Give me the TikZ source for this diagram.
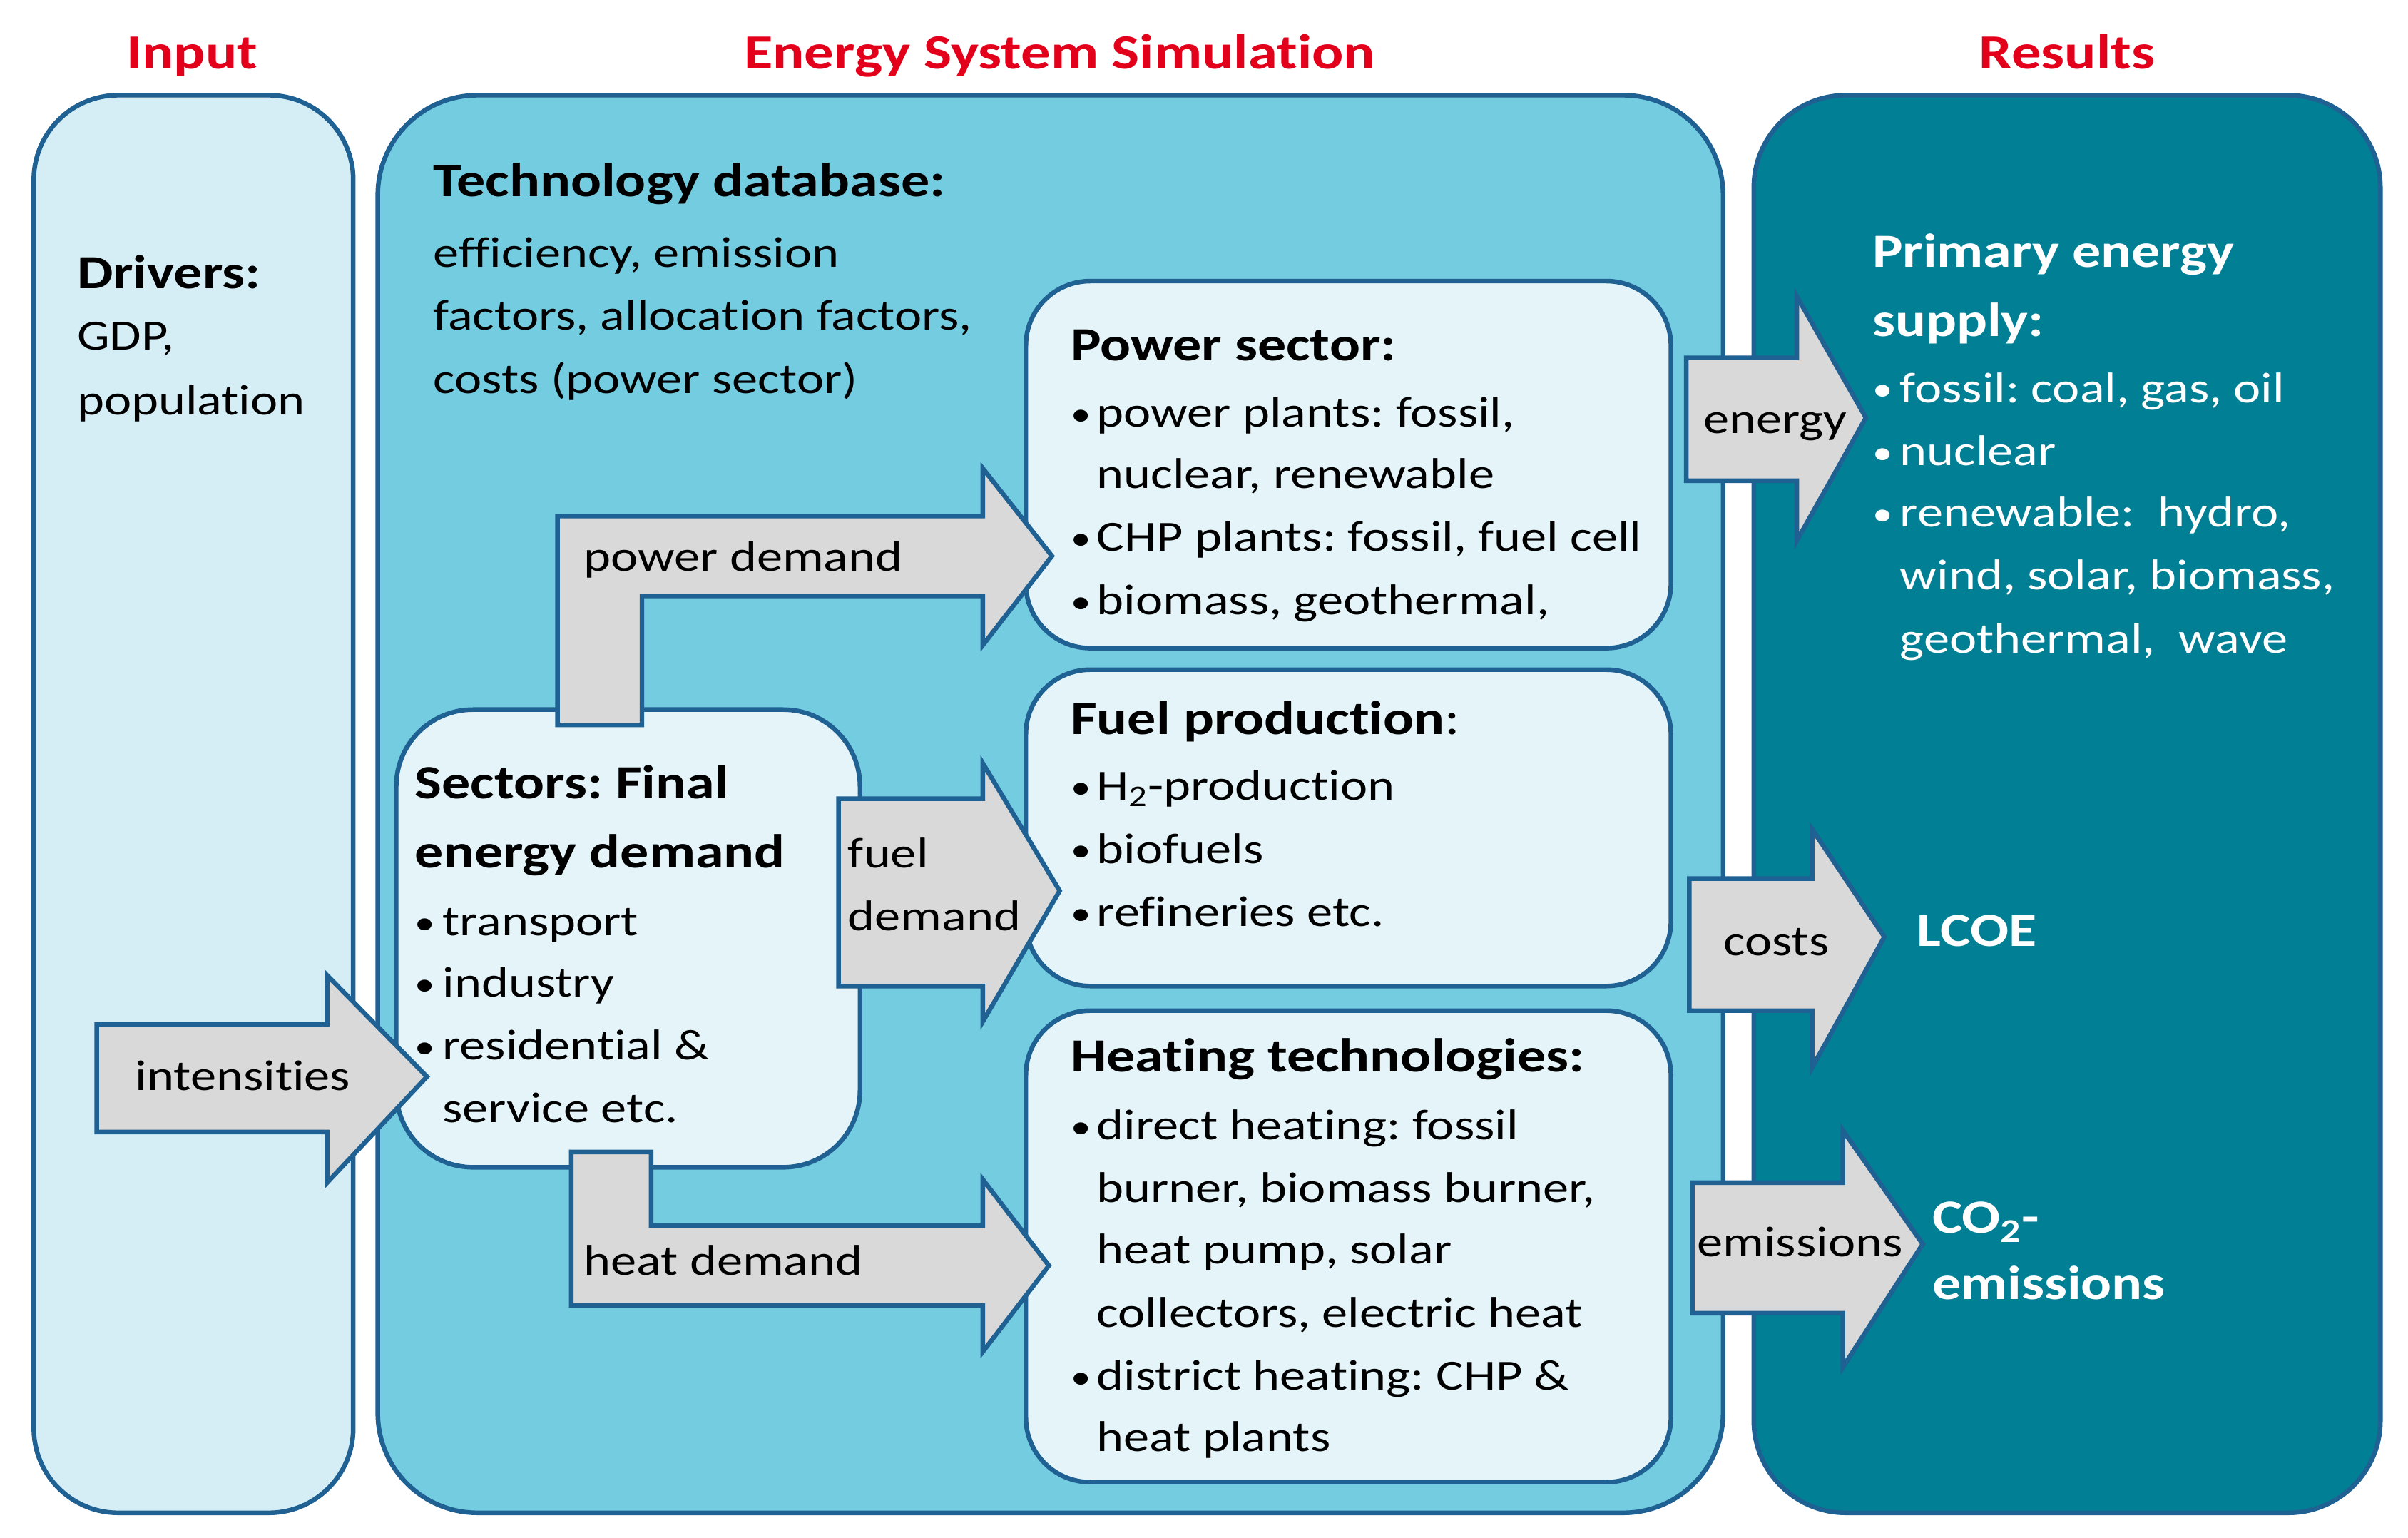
\documentclass[tikz,border=0pt]{standalone}
\usepackage{fontspec}
\setmainfont{Carlito}[FakeStretch=1.2,RawFeature=-liga]
\newcommand{\bul}[1][17pt]{\makebox[#1][l]{\raisebox{1pt}{\fontsize{22}{22}\selectfont\textbullet}}}
\frenchspacing
\begin{document}
\frenchspacing
\definecolor{edge}{HTML}{1F6193}
\definecolor{inp}{HTML}{D5EEF6}
\definecolor{mid}{HTML}{74CCE0}
\definecolor{inner}{HTML}{E4F4F9}
\definecolor{res}{HTML}{017F95}
\definecolor{ttl}{HTML}{E2001A}
\definecolor{arr}{HTML}{D9D9D9}
\begin{tikzpicture}[x=1pt,y=-1pt,
  box/.style={draw=edge,line width=3pt},
  arrw/.style={draw=edge,fill=arr,line width=3pt,line join=miter},
  t/.style={anchor=base west,inner sep=0pt,font=\fontsize{28}{34}\selectfont\frenchspacing},
  tb/.style={anchor=base west,inner sep=0pt,font=\fontsize{31}{37}\selectfont\bfseries\frenchspacing},
  ttl/.style={anchor=base,inner sep=0pt,text=ttl,font=\fontsize{32}{38}\selectfont\bfseries},
  w/.style={text=white}]
\useasboundingbox (0,0) rectangle (1568,1001);
% titles
\node[ttl] (ti) at (125,45) {Input};
\node[ttl] (ts) at (690,45) {Energy System Simulation};
\node[ttl] (tr) at (1346,45) {Results};
% big boxes
\draw[box,fill=inp,rounded corners=55] (22,62) rectangle (230,985);
\draw[box,fill=mid,rounded corners=65] (246,62) rectangle (1122,985);
\draw[box,fill=res,rounded corners=60] (1142,62) rectangle (1550,985);
% inner boxes
\draw[box,fill=inner,rounded corners=42] (668,183) rectangle (1088,422);
\draw[box,fill=inner,rounded corners=42] (668,436) rectangle (1088,642);
\draw[box,fill=inner,rounded corners=42] (668,658) rectangle (1088,965);
\draw[box,fill=inner,rounded corners=50] (258,462) rectangle (560,760);
% arrows
\draw[arrw] (63,667) -- (213,667) -- (213,635) -- (278,701) -- (213,770) -- (213,737) -- (63,737) -- cycle;
\draw[arrw] (363,472) -- (363,336) -- (640,336) -- (640,305) -- (685,362) -- (640,420) -- (640,388) -- (418,388) -- (418,472) -- cycle;
\draw[arrw] (546,520) -- (640,520) -- (640,497) -- (690,580) -- (640,665) -- (640,642) -- (546,642) -- cycle;
\draw[arrw] (372,750) -- (424,750) -- (424,798) -- (640,798) -- (640,768) -- (683,824) -- (640,880) -- (640,850) -- (372,850) -- cycle;
\draw[arrw] (1098,233) -- (1170,233) -- (1170,193) -- (1215,272) -- (1170,352) -- (1170,313) -- (1098,313) -- cycle;
\draw[arrw] (1100,572) -- (1180,572) -- (1180,540) -- (1227,610) -- (1180,695) -- (1180,658) -- (1100,658) -- cycle;
\draw[arrw] (1102,770) -- (1200,770) -- (1200,736) -- (1252,810) -- (1200,890) -- (1200,855) -- (1102,855) -- cycle;
% input text
\node[tb] (dr) at (50,188) {Drivers:};
\node[t] (d1) at (50,228) {GDP,};
\node[t] (d2) at (50,270) {population};
% tech db
\node[tb] (tdb) at (282,128) {Technology database:};
\node[t] (tb1) at (282,174) {efficiency, emission};
\node[t] (tb2) at (282,215) {factors, allocation factors,};
\node[t] (tb3) at (282,256) {costs (power sector)};
% power sector
\node[tb] (ps) at (697,235) {Power sector:};
\node[t] (p1) at (697,278) {\bul power plants: fossil,};
\node[t] (p2) at (714,318) {nuclear, renewable};
\node[t] (p3) at (697,359) {\bul CHP plants: fossil, fuel cell};
\node[t] (p4) at (697,400) {\bul biomass, geothermal,};
% fuel
\node[tb] (fp) at (697,478) {Fuel production\textmd{:}};
\node[t] (f1) at (697,521) {\bul H\textsubscript{2}-production};
\node[t] (f2) at (697,562) {\bul biofuels};
\node[t] (f3) at (697,603) {\bul refineries etc.};
% heating
\node[tb] (ht) at (697,698) {Heating technologies:};
\node[t] (h1) at (697,742) {\bul direct heating: fossil};
\node[t] (h2) at (714,783) {burner, biomass burner,};
\node[t] (h3) at (714,823) {heat pump, solar};
\node[t] (h4) at (714,864) {collectors, electric heat};
\node[t] (h5) at (697,905) {\bul district heating: CHP \&};
\node[t] (h6) at (714,945) {heat plants};
% sectors
\node[tb] (s0) at (270,520) {Sectors: Final};
\node[tb] (s1) at (270,565) {energy demand};
\node[t] (s2) at (270,609) {\bul[18pt]transport};
\node[t] (s3) at (270,649) {\bul[18pt]industry};
\node[t] (s4) at (270,690) {\bul[18pt]residential \&};
\node[t] (s5) at (288,731) {service etc.};
% results
\node[tb,w] (r0) at (1219,174) {Primary energy};
\node[tb,w] (r1) at (1219,219) {supply:};
\node[t,w] (r2) at (1219,262) {\bul[18pt]fossil: coal, gas, oil};
\node[t,w] (r3) at (1219,303) {\bul[18pt]nuclear};
\node[t,w] (r4) at (1219,343) {\bul[18pt]renewable:\ \ hydro,};
\node[t,w] (r5) at (1237,384) {wind, solar, biomass,};
\node[t,w] (r6) at (1237,425) {geothermal,\ \ wave};
\node[tb,w] (lc) at (1248,616) {LCOE};
\node[tb,w] (co) at (1258,803) {CO\textsubscript{2}-};
\node[tb,w] (em) at (1258,846) {emissions};
% arrow labels
\node[t] (l1) at (380,372) {power demand};
\node[t] (l2) at (552,565) {fuel};
\node[t] (l3) at (552,606) {demand};
\node[t] (l4) at (380,830) {heat demand};
\node[t] (l5) at (88,710) {intensities};
\node[t] (l6) at (1109,282) {energy};
\node[t] (l7) at (1122,622) {costs};
\node[t] (l8) at (1105,818) {emissions};
\end{tikzpicture}
\end{document}
